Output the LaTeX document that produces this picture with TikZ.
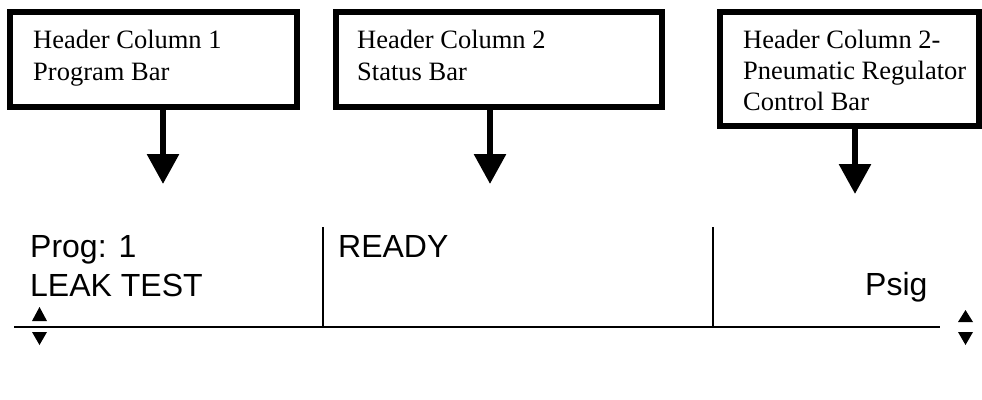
\documentclass[tikz,border=0pt]{standalone}
\usepackage{fontspec}
\setmainfont{Liberation Serif}
\newfontfamily\arialfont{Liberation Sans}
\usetikzlibrary{arrows.meta}
\tikzset{
  hdrbox/.style={draw=black, line width=6pt, inner sep=0pt, rectangle},
  hdrtext/.style={anchor=base west, inner sep=0pt, font=\fontsize{26.5}{32}\selectfont},
  lcdtext/.style={anchor=base west, inner sep=0pt, font=\arialfont\fontsize{32}{39}\selectfont},
  pointer/.style={line width=6pt, -{Triangle[width=31pt,length=30pt]}},
  rule/.style={line width=2pt},
  tri/.style={fill=black}
}
\begin{document}
\begin{tikzpicture}[x=1pt,y=-1pt]
\useasboundingbox (0,0) rectangle (982,399);
% header boxes
\node[hdrbox, minimum width=287pt, minimum height=95pt] (b1) at (153.5,59.5) {};
\node[hdrbox, minimum width=326pt, minimum height=95pt] (b2) at (499,59.5) {};
\node[hdrbox, minimum width=259pt, minimum height=114pt] (b3) at (849.5,69) {};
% header texts
\node[hdrtext] (h1a) at (33,48) {Header Column 1};
\node[hdrtext] (h1b) at (33,80) {Program Bar};
\node[hdrtext] (h2a) at (357,48) {Header Column 2};
\node[hdrtext] (h2b) at (357,80) {Status Bar};
\node[hdrtext] (h3a) at (743,48) {Header Column 2-};
\node[hdrtext] (h3b) at (743,79) {Pneumatic Regulator};
\node[hdrtext] (h3c) at (743,110) {Control Bar};
% arrow targets
\coordinate (t1) at (163,184);
\coordinate (t2) at (490,184);
\coordinate (t3) at (855,194);
\draw[pointer] (b1.south -| t1) -- (t1);
\draw[pointer] (b2.south -| t2) -- (t2);
\draw[pointer] (b3.south -| t3) -- (t3);
% display area
\coordinate (hl) at (14,327);
\coordinate (hr) at (940,327);
\coordinate (v1t) at (323,227);
\coordinate (v2t) at (713,227);
\draw[rule] (hl) -- (hr);
\draw[rule] (v1t) -- (v1t |- hl);
\draw[rule] (v2t) -- (v2t |- hl);
\node[lcdtext] (prog) at (30,257) {Prog: 1};
\node[lcdtext] (leak) at (30,296) {LEAK TEST};
\node[lcdtext] (ready) at (338,257) {READY};
\node[lcdtext] (psig) at (865,295) {Psig};
% scroll triangles
\fill[tri] (32,321) -- (47,321) -- (39.5,307) -- cycle;
\fill[tri] (32,332) -- (47,332) -- (39.5,345) -- cycle;
\fill[tri] (958,322) -- (973,322) -- (965.5,310) -- cycle;
\fill[tri] (958,332) -- (973,332) -- (965.5,345) -- cycle;
\end{tikzpicture}
\end{document}
